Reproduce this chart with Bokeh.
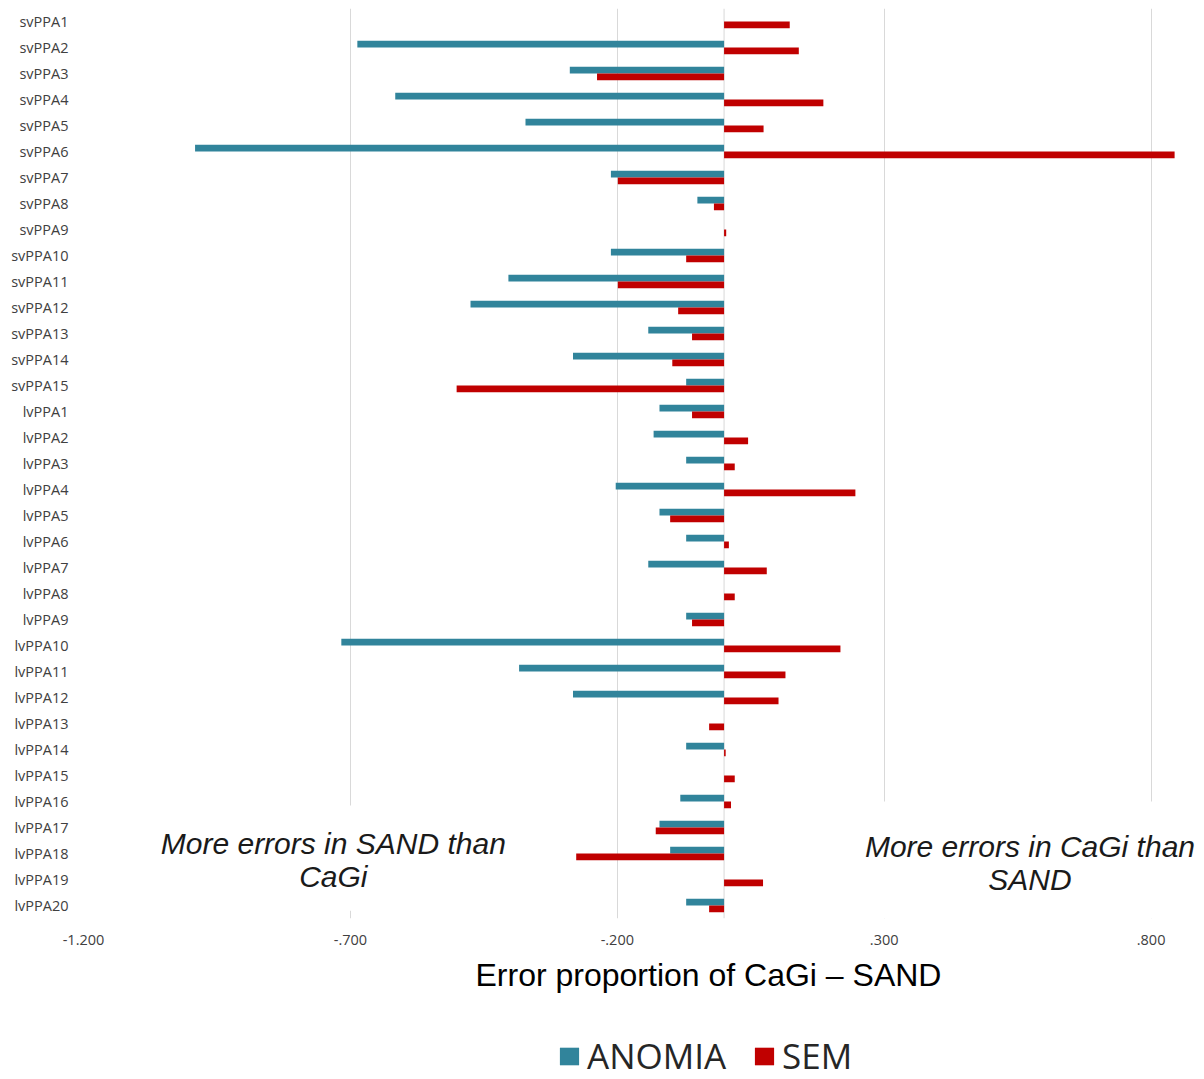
from bokeh.plotting import figure
from bokeh.layouts import column
from bokeh.models import (ColumnDataSource, FactorRange, FixedTicker, Label, Legend,
                          LegendItem, Span, BoxAnnotation, Title)
from bokeh.transform import dodge
from bokeh.embed import file_html
from bokeh.resources import INLINE

categories = [f"svPPA{i}" for i in range(1, 16)] + [f"lvPPA{i}" for i in range(1, 21)]

anomia = [0.0, -0.687, -0.289, -0.616, -0.372, -0.991, -0.212, -0.050, 0.0, -0.212,
          -0.404, -0.475, -0.142, -0.283, -0.071,
          -0.121, -0.132, -0.071, -0.203, -0.121, -0.071, -0.142, 0.0, -0.071, -0.717,
          -0.384, -0.283, 0.0, -0.071, 0.0, -0.082, -0.121, -0.101, 0.0, -0.071]

sem = [0.123, 0.140, -0.238, 0.186, 0.074, 0.844, -0.199, -0.019, 0.004, -0.071,
       -0.199, -0.086, -0.060, -0.097, -0.501,
       -0.060, 0.045, 0.020, 0.246, -0.101, 0.009, 0.080, 0.020, -0.060, 0.218,
       0.115, 0.102, -0.028, 0.003, 0.020, 0.013, -0.128, -0.277, 0.073, -0.028]

series_names = ["ANOMIA", "SEM"]
tick_values = [-1.2, -0.7, -0.2, 0.3, 0.8]
tick_labels = ["-1.200", "-.700", "-.200", ".300", ".800"]
x_title = "Error proportion of CaGi \u2013 SAND"
note_left = "More errors in SAND than\nCaGi"
note_right = "More errors in CaGi than\nSAND"

TEAL = "#31849B"
RED = "#C00000"
GRID = "#D9D9D9"

src = ColumnDataSource(dict(cat=categories, anomia=anomia, sem=sem))

p = figure(width=1204, height=1015, y_range=FactorRange(factors=categories[::-1]),
           x_range=(-1.2, 0.9), output_backend="svg", toolbar_location=None,
           min_border_left=83, min_border_right=0, min_border_top=8, min_border_bottom=97)
p.outline_line_color = None
p.background_fill_color = "white"

p.ygrid.grid_line_color = None
p.xgrid.grid_line_color = GRID
p.xgrid.grid_line_width = 1
p.xaxis.ticker = FixedTicker(ticks=tick_values)
p.xaxis.major_label_overrides = {v: l for v, l in zip(tick_values, tick_labels)}
for ax in (p.xaxis, p.yaxis):
    ax.axis_line_color = None
    ax.major_tick_line_color = None
    ax.minor_tick_line_color = None
    ax.major_tick_out = 0
    ax.major_tick_in = 0
    ax.major_label_text_font = "Open Sans"
    ax.major_label_text_color = "#404040"
p.xaxis.major_label_text_font_size = "14.5px"
p.xaxis.major_label_standoff = 16
p.yaxis.major_label_text_font_size = "14.5px"
p.yaxis.major_label_standoff = 15

zero = Span(location=0, dimension="height", line_color=GRID, line_width=1, level="underlay")
p.add_layout(zero)

r1 = p.hbar(y=dodge("cat", 0.13, range=p.y_range), left=0, right="anomia", height=0.26,
            fill_color=TEAL, line_color=None, source=src)
r2 = p.hbar(y=dodge("cat", -0.13, range=p.y_range), left=0, right="sem", height=0.26,
            fill_color=RED, line_color=None, source=src)

# white text boxes that hide grid lines behind the notes
p.add_layout(BoxAnnotation(left=-0.9, right=-0.38, bottom=0.3, top=4.35,
                           fill_color="white", fill_alpha=1.0, line_color=None, level="underlay"))
p.add_layout(BoxAnnotation(left=0.25, right=0.9, bottom=0.0, top=4.5,
                           fill_color="white", fill_alpha=1.0, line_color=None, level="underlay"))

p.add_layout(Label(x=-0.732, y=3.52, text=note_left, text_align="center", text_baseline="top",
                   text_font="Liberation Sans", text_font_style="italic",
                   text_font_size="30px", text_color="#1a1a1a", text_line_height=1.0))
p.add_layout(Label(x=0.573, y=3.40, text=note_right, text_align="center", text_baseline="top",
                   text_font="Liberation Sans", text_font_style="italic",
                   text_font_size="30px", text_color="#1a1a1a", text_line_height=1.0))

title = Title(text=x_title, align="left", offset=392, standoff=15,
              text_font="Liberation Sans", text_font_size="32px",
              text_font_style="normal", text_color="#000000")
p.add_layout(title, "below")

# legend strip under the chart (proxy renderers lie outside the strip's ranges)
leg_src = ColumnDataSource(dict(y=[5], right=[0]))
p2 = figure(width=1204, height=64, x_range=(0, 1), y_range=(0, 1), output_backend="svg",
            toolbar_location=None, x_axis_type=None, y_axis_type=None,
            min_border_left=0, min_border_right=0, min_border_top=0, min_border_bottom=0)
p2.outline_line_color = None
p2.xgrid.grid_line_color = None
p2.ygrid.grid_line_color = None
l1 = p2.hbar(y="y", right="right", left=0, height=1, fill_color=TEAL, line_color=None,
             source=leg_src)
l2 = p2.hbar(y="y", right="right", left=0, height=1, fill_color=RED, line_color=None,
             source=leg_src)
legend = Legend(items=[LegendItem(label=series_names[0], renderers=[l1]),
                       LegendItem(label=series_names[1], renderers=[l2])],
                orientation="horizontal", location=(474, 0),
                label_text_font="Open Sans", label_text_font_size="35px",
                label_text_baseline="middle",
                label_text_color="#262626", glyph_width=24, glyph_height=22,
                spacing=26, label_standoff=6, border_line_color=None,
                background_fill_alpha=0.0, padding=0, margin=0)
p2.add_layout(legend, "center")

layout = column(p, p2, spacing=0)
open("out.html", "w").write(file_html(layout, INLINE))
